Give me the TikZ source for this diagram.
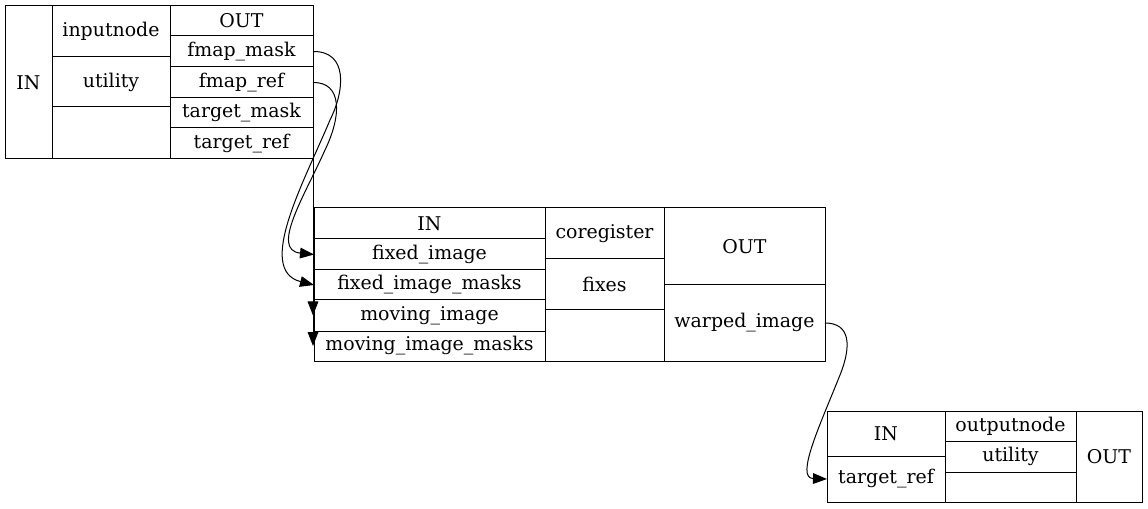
\documentclass[tikz,border=0pt]{standalone}
\usepackage{fontspec}
\setmainfont{DejaVu Serif}
\usetikzlibrary{arrows.meta}
\newcommand\mkcell[6]{\node[cell, minimum width={(#4-#2)*0.75pt}, minimum height={(#5-#3)*0.75pt}] (#1) at ({(#2+#4)/2},{(#3+#5)/2}) {#6};}
\tikzset{
  cell/.style={draw, rectangle, inner sep=0pt, outer sep=0pt, line width=0.75pt, font=\fontsize{14.2}{16}\selectfont},
  edge/.style={line width=0.75pt, -{Triangle[length=10.5pt,width=8pt]}}
}
\begin{document}
\begin{tikzpicture}[x=0.75pt,y=-0.75pt]
\useasboundingbox (0,0) rectangle (1148,509);
% inputnode
\mkcell{inIN}{5}{6}{52}{159}{IN}
\mkcell{inName}{52}{6}{170}{57}{inputnode}
\mkcell{inUtil}{52}{57}{170}{107}{utility}
\mkcell{inEmpty}{52}{107}{170}{159}{}
\mkcell{inOUT}{170}{6}{313}{36}{OUT}
\mkcell{fmapmask}{170}{36}{313}{67}{fmap\_mask}
\mkcell{fmapref}{170}{67}{313}{98}{fmap\_ref}
\mkcell{targetmask}{170}{98}{313}{128}{target\_mask}
\mkcell{targetref}{170}{128}{313}{159}{target\_ref}
% coregister
\mkcell{coIN}{314}{208}{545}{239}{IN}
\mkcell{fixedimage}{314}{239}{545}{270}{fixed\_image}
\mkcell{fixedimagemasks}{314}{270}{545}{300}{fixed\_image\_masks}
\mkcell{movingimage}{314}{300}{545}{331}{moving\_image}
\mkcell{movingimagemasks}{314}{331}{545}{361}{moving\_image\_masks}
\mkcell{coName}{545}{208}{664}{259}{coregister}
\mkcell{coUtil}{545}{259}{664}{310}{fixes}
\mkcell{coEmpty}{545}{310}{664}{361}{}
\mkcell{coOUT}{664}{208}{825}{285}{OUT}
\mkcell{warpedimage}{664}{285}{825}{361}{warped\_image}
% outputnode
\mkcell{outIN}{827}{411}{945}{456}{IN}
\mkcell{outtargetref}{827}{456}{945}{502}{target\_ref}
\mkcell{outName}{945}{411}{1076}{441}{outputnode}
\mkcell{outUtil}{945}{441}{1076}{472}{utility}
\mkcell{outEmpty}{945}{472}{1076}{502}{}
\mkcell{outOUT}{1076}{411}{1142}{502}{OUT}
% edges
\draw[edge] (fmapmask.east) .. controls (348,51) and (345,90) .. (330,120) .. controls (305,180) and (255,270) .. (fixedimagemasks.west);
\draw[edge] (fmapref.east) .. controls (342,82) and (342,115) .. (325,150) .. controls (305,195) and (270,250) .. (fixedimage.west);
\draw[edge] (targetmask.east) -- (targetmask.east |- movingimagemasks.west);
\draw[edge] (targetref.east) -- (targetref.east |- movingimage.west);
\draw[edge] (warpedimage.east) .. controls (850,323) and (852,345) .. (840,375) .. controls (820,425) and (795,478) .. (outtargetref.west);
\end{tikzpicture}
\end{document}
